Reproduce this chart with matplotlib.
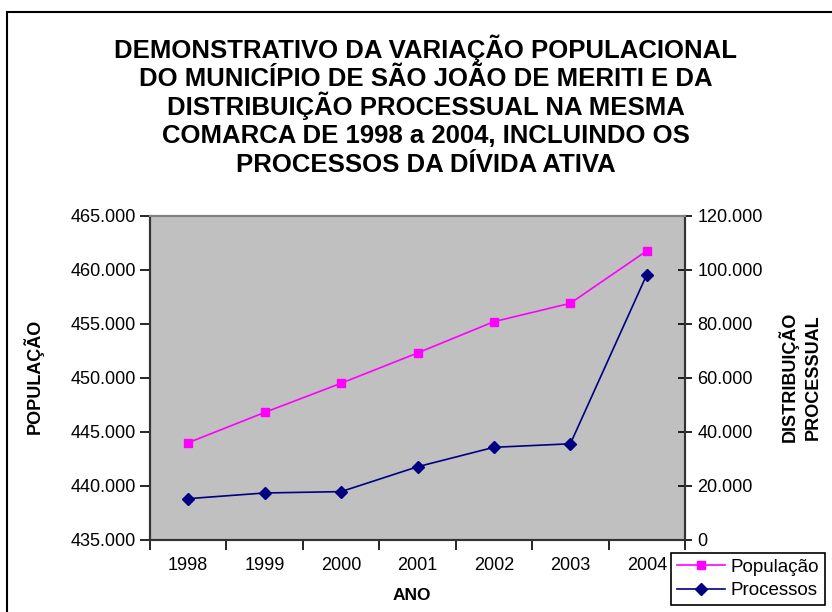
import matplotlib
matplotlib.use("Agg")
from matplotlib import pyplot as plt
from matplotlib.ticker import FuncFormatter, MultipleLocator
import matplotlib.patches as mpatches

anos = ["1998", "1999", "2000", "2001", "2002", "2003", "2004"]
populacao = [444000, 446800, 449500, 452300, 455200, 456900, 461750]
processos = [15300, 17400, 17900, 27100, 34300, 35600, 98200]

plt.rcParams["font.family"] = ["Liberation Sans", "DejaVu Sans"]

def milhar(v, pos):
    return f"{v:,.0f}".replace(",", ".")

fig = plt.figure(figsize=(8.32, 6.12), dpi=100)
ax = fig.add_axes([150 / 832, 72 / 612, 535 / 832, 324.3 / 612])
ax2 = ax.twinx()

ax.set_facecolor("#C0C0C0")
x = list(range(len(anos)))

l1, = ax.plot(x, populacao, color="#FF00FF", lw=1.2, marker="s", ms=6,
              mec="#FF00FF", label="População", zorder=3)
l2, = ax2.plot(x, processos, color="#000080", lw=1.2, marker="D", ms=6,
               mec="#000080", label="Processos", zorder=3)

ax.set_xlim(-0.5, len(anos) - 0.5)
ax.set_ylim(435000, 465000)
ax2.set_ylim(0, 120000)
ax.yaxis.set_major_locator(MultipleLocator(5000))
ax2.yaxis.set_major_locator(MultipleLocator(20000))
ax.yaxis.set_major_formatter(FuncFormatter(milhar))
ax2.yaxis.set_major_formatter(FuncFormatter(milhar))

# category labels at centers, ticks at the boundaries (Excel style)
ax.set_xticks(x)
ax.set_xticklabels(anos)
ax.set_xticks([i - 0.5 for i in range(len(anos) + 1)], minor=True)
ax.tick_params(axis="x", which="major", length=0, pad=12, labelsize=13)
ax.tick_params(axis="x", which="minor", length=7, width=1.2, direction="out")
ax.tick_params(axis="y", length=7, width=1.2, direction="out", labelsize=13, pad=3)
ax2.tick_params(axis="y", length=10, width=1.2, direction="inout", labelsize=13, pad=4)

for a in (ax, ax2):
    a.spines["top"].set_color("#808080")
    a.spines["top"].set_linewidth(1.5)
    for s in ("left", "bottom", "right"):
        a.spines[s].set_color("#333333")
        a.spines[s].set_linewidth(1.5)

narrow = ["Liberation Sans Narrow", "Liberation Sans", "DejaVu Sans"]
fig.text(33 / 832, 1 - 376 / 612, "POPULAÇÃO", rotation=90, ha="center", va="center",
         fontsize=13, fontweight="bold", family=narrow)
fig.text(800 / 832, 1 - 377 / 612, "DISTRIBUIÇÃO\nPROCESSUAL", rotation=90,
         ha="center", va="center", fontsize=13, fontweight="bold", family=narrow,
         linespacing=1.5, multialignment="center")
fig.text(412 / 832, 1 - 595 / 612, "ANO", ha="center", va="center",
         fontsize=12.5, fontweight="bold")

# title drawn line by line so the accents don't make the spacing uneven
titulo = ["DEMONSTRATIVO DA VARIAÇÃO POPULACIONAL",
          "DO MUNICÍPIO DE SÃO JOÃO DE MERITI E DA",
          "DISTRIBUIÇÃO PROCESSUAL NA MESMA",
          "COMARCA DE 1998 a 2004, INCLUINDO OS",
          "PROCESSOS DA DÍVIDA ATIVA"]
for i, linha in enumerate(titulo):
    base = 57.7 + i * 28.5
    fig.text(426 / 832, 1 - base / 612, linha, ha="center", va="baseline",
             fontsize=18.5, fontweight="bold")

leg = fig.legend([l1, l2], ["População", "Processos"], loc="upper left",
                 bbox_to_anchor=(671 / 832, 1 - 553 / 612), fontsize=13.5,
                 frameon=True, fancybox=False, edgecolor="black", framealpha=1,
                 handlelength=2.6, borderpad=0.3, labelspacing=0.35,
                 handletextpad=0.3, borderaxespad=0)
leg.get_frame().set_linewidth(1.2)

fig.patches.append(mpatches.Rectangle((7 / 832, -0.1), 1.0, 1 - 12 / 612 + 0.1,
                                      transform=fig.transFigure, fill=False,
                                      edgecolor="black", lw=1.5))

plt.savefig("out.png", dpi=100)
plt.close()
